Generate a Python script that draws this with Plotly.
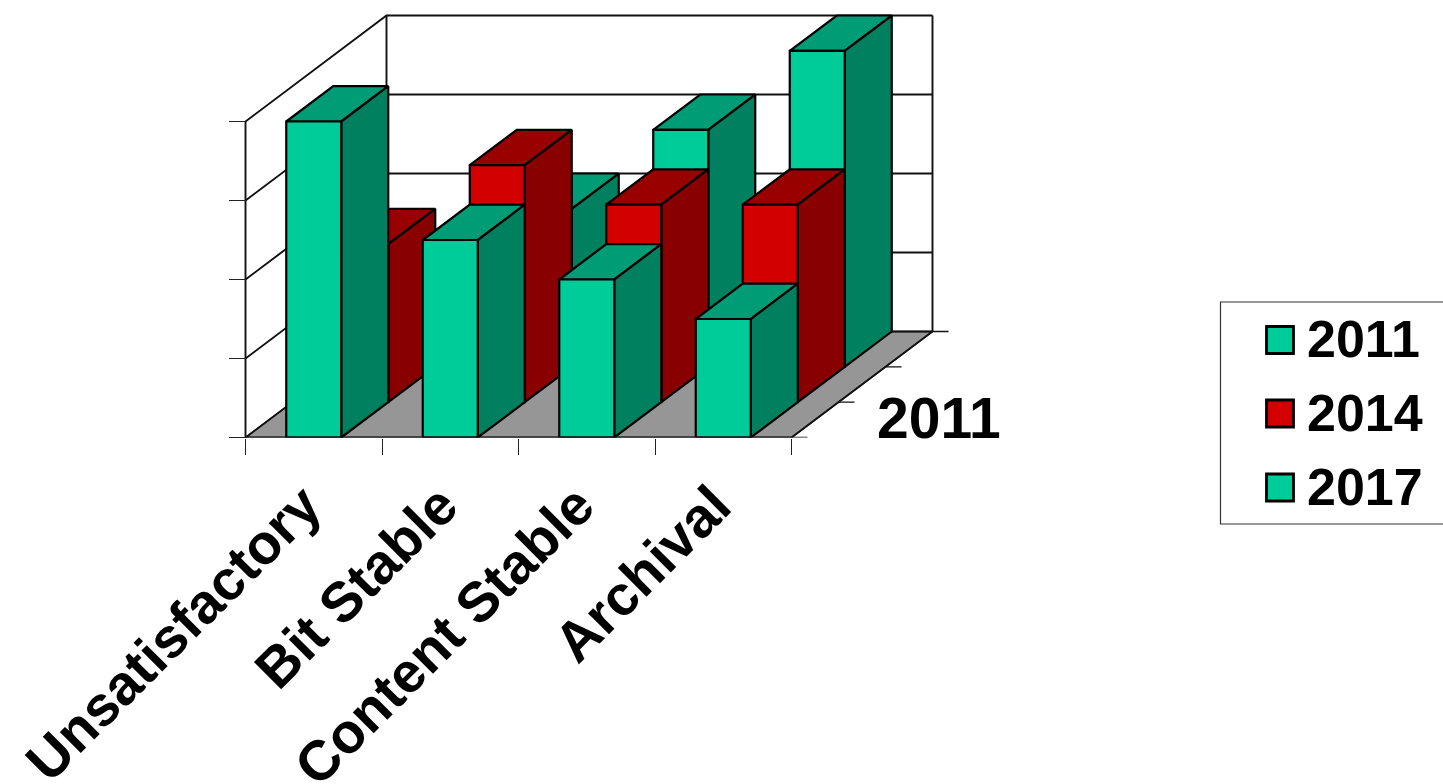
import plotly.graph_objects as go

categories = ["Unsatisfactory", "Bit Stable", "Content Stable", "Archival"]
years = ["2011", "2014", "2017"]
values_2011 = [4, 2.5, 2, 1.5]
values_2014 = [2, 3, 2.5, 2.5]
values_2017 = [1, 2, 3, 4]
value_ticks = [0, 1, 2, 3, 4]

series = [values_2011, values_2014, values_2017]
palette = [
    dict(front="#00CC99", top="#009C75", side="#00805F"),
    dict(front="#D20000", top="#990000", side="#880000"),
    dict(front="#00CC99", top="#009C75", side="#00805F"),
]

W, H = 1443, 784
X0, Y0, CAT, UNIT = 245.5, 437.5, 136.5, 79.0
DX = 47.0 / CAT      # category units per depth row
DY = 35.33 / UNIT    # value units per depth row
HALF = 27.5 / CAT    # half bar width

def proj(x, y, d):
    return x + d * DX, y + d * DY

def poly(pts):
    xs, ys = [], []
    for x, y, d in pts + pts[:1]:
        px, py = proj(x, y, d)
        xs.append(px)
        ys.append(py)
    return xs, ys

def line_trace(fig, pts, width=1.6, color="#111111"):
    xs, ys = [], []
    for seg in pts:
        for x, y, d in seg:
            px, py = proj(x, y, d)
            xs.append(px)
            ys.append(py)
        xs.append(None)
        ys.append(None)
    fig.add_trace(go.Scatter(x=xs, y=ys, mode="lines", line=dict(color=color, width=width),
                             hoverinfo="skip", showlegend=False, cliponaxis=False))

fig = go.Figure()
ncat = len(categories)
ytop = value_ticks[-1]
nrow = len(years)

# floor
fx, fy = poly([(0, 0, 0), (ncat, 0, 0), (ncat, 0, nrow), (0, 0, nrow)])
fig.add_trace(go.Scatter(x=fx, y=fy, mode="lines", fill="toself", fillcolor="#969696",
                         line=dict(color="#222222", width=1.5), hoverinfo="skip",
                         showlegend=False, cliponaxis=False))

# walls and gridlines
segs = []
for v in value_ticks:
    segs.append([(0, v, 0), (0, v, nrow), (ncat, v, nrow)])
segs.append([(0, 0, 0), (0, ytop, 0)])
segs.append([(0, 0, nrow), (0, ytop, nrow)])
segs.append([(ncat, 0, nrow), (ncat, ytop, nrow)])
line_trace(fig, segs, width=1.9)

# bars, back row first
for r in range(nrow - 1, -1, -1):
    for face in ("top", "side", "front"):
        xs, ys = [], []
        for i, v in enumerate(series[r]):
            l, rr = i + 0.5 - HALF, i + 0.5 + HALF
            if face == "front":
                p = [(l, 0, r), (rr, 0, r), (rr, v, r), (l, v, r)]
            elif face == "top":
                p = [(l, v, r), (rr, v, r), (rr, v, r + 1), (l, v, r + 1)]
            else:
                p = [(rr, 0, r), (rr, v, r), (rr, v, r + 1), (rr, 0, r + 1)]
            a, b = poly(p)
            xs += a + [None]
            ys += b + [None]
        fig.add_trace(go.Scatter(x=xs, y=ys, mode="lines", fill="toself",
                                 fillcolor=palette[r][face], name=f"{years[r]} {face}",
                                 line=dict(color="#000000", width=2.2),
                                 hoverinfo="skip", showlegend=False, cliponaxis=False))

# front baseline and depth axis
line_trace(fig, [[(0, 0, 0), (ncat, 0, 0), (ncat, 0, nrow)]], width=1.9)
tick_dx = 16.0 / CAT
line_trace(fig, [[(ncat, 0, d), (ncat + tick_dx, 0, d)] for d in range(nrow + 1)], width=1.4)

def px(x):
    return x / W

def py(y):
    return 1 - y / H

FONT = "Liberation Sans"
# depth label
fig.add_annotation(x=(938.5 - X0) / CAT, y=(Y0 - 418) / UNIT, text=f"<b>{years[0]}</b>", showarrow=False,
                   font=dict(family=FONT, size=57, color="#000000"), xanchor="center", yanchor="middle")

# legend box
shapes = [dict(type="rect", xref="paper", yref="paper", x0=px(1220.5), x1=px(1450), y0=py(524), y1=py(302),
               line=dict(color="#333333", width=1.2), fillcolor="#FFFFFF")]
rows_y = [340, 413.5, 487.5]
for yr, cy, col in zip(years, rows_y, palette):
    shapes.append(dict(type="rect", xref="paper", yref="paper", x0=px(1266.5), x1=px(1293.5),
                       y0=py(cy + 13.5), y1=py(cy - 13.5),
                       line=dict(color="#000000", width=2.8), fillcolor=col["front"]))
    fig.add_annotation(xref="paper", yref="paper", x=px(1305), y=py(cy - 1), text=f"<b>{yr}</b>",
                       showarrow=False, xanchor="left", yanchor="middle",
                       font=dict(family=FONT, size=52, color="#000000"))

fig.update_layout(
    width=W, height=H, margin=dict(l=0, r=0, t=0, b=0), showlegend=False,
    paper_bgcolor="#FFFFFF", plot_bgcolor="#FFFFFF", shapes=shapes,
    font=dict(family=FONT, color="#000000"),
    xaxis=dict(range=[-X0 / CAT, (W - X0) / CAT], domain=[0, 1], showgrid=False, zeroline=False,
               showline=False, tickmode="array",
               tickvals=[i + 0.5 for i in range(ncat)],
               ticktext=[f"<b>{c}</b>" for c in categories],
               tickangle=-45, ticks="", tickfont=dict(family=FONT, size=56, color="#000000"),
               ticklabelstandoff=23, ticklabelshift=-9,
               minor=dict(tickmode="array", tickvals=list(range(ncat + 1)), ticks="outside",
                          ticklen=16, tickwidth=1.4, tickcolor="#222222", showgrid=False),
               automargin=False),
    yaxis=dict(range=[0, Y0 / UNIT], domain=[(H - Y0) / H, 1], anchor="free", position=X0 / W,
               showgrid=False, zeroline=False, showline=False, tickmode="array",
               tickvals=value_ticks, showticklabels=False, ticks="outside", ticklen=17,
               tickwidth=1.4, tickcolor="#222222", automargin=False),
)

fig.write_html("out.html", config=dict(displayModeBar=False),
               post_script="document.body.style.margin='0';document.body.style.overflow='hidden';")
